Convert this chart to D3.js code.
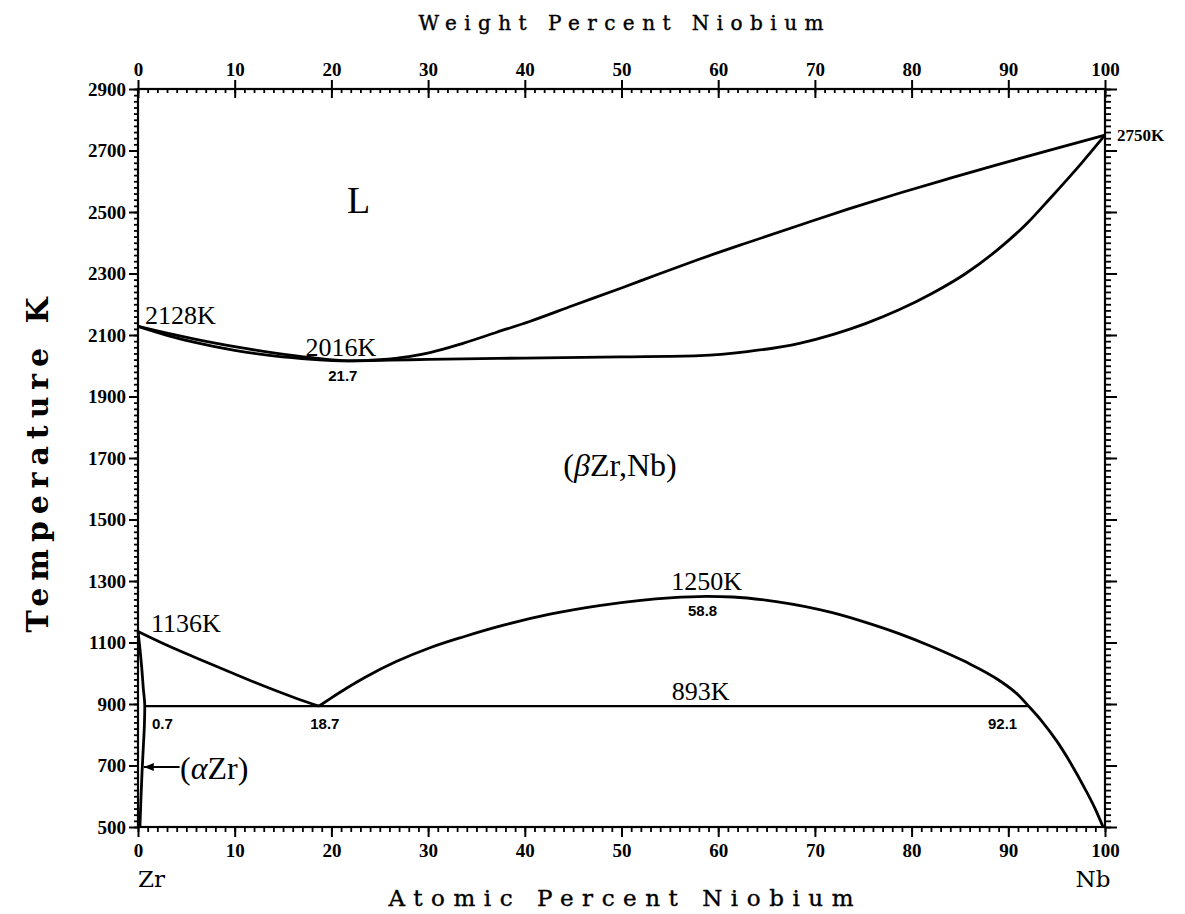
<!DOCTYPE html>
<html>
<head>
<meta charset="utf-8">
<script src="https://cdn.jsdelivr.net/npm/d3@7"></script>
<style>
  body { margin: 0; background: #fff; }
  svg { display: block; }
</style>
</head>
<body>
<svg id="chart" width="1185" height="914"></svg>
<script>
// data (atomic % Nb, temperature K)
const liquidus = [[0,2128],[3,2106],[6,2086],[10,2062],[14,2042],[18,2026],[21.7,2016],[25,2020],[28,2030],[30.2,2043],[33.6,2073],[37.1,2109],[40.5,2144],[45,2196],[50,2253],[54,2300],[58.1,2347],[63,2400],[68.4,2457],[73.5,2510],[78.7,2561],[84,2610],[89,2655],[94.5,2703],[100,2750]]
const solidus = [[0,2128],[3,2099],[6,2075],[10,2050],[14,2032],[18,2021],[21.7,2016],[26,2018],[30,2021],[40,2025],[50,2029],[58.1,2033],[63,2046],[68.4,2073],[72,2103],[75.3,2138],[78.7,2182],[82.1,2235],[85.6,2300],[89,2380],[92,2465],[94.2,2540],[97.6,2660],[100,2750]]
const betaTransus = [[0,1136],[2.6,1097],[6.1,1049],[9.5,1004],[12.9,960],[16.4,918],[18.7,893]]
const alphaSolvus = [[0,1136],[0.2,1080],[0.38,1020],[0.55,950],[0.7,893],[0.66,830],[0.55,760],[0.42,680],[0.3,590],[0.2,500]]
const miscibilityGap = [[18.7,893],[20,920],[21.6,952],[23.5,987],[26.7,1038],[30.2,1083],[33.6,1118],[38,1158],[42.6,1192],[47.7,1220],[52,1237],[55,1245],[58.8,1250],[61.5,1248],[66,1233],[71.8,1197],[75,1168],[78.7,1129],[82,1088],[85.6,1037],[89,978],[91,930],[92.1,893],[93.5,843],[95,780],[96.5,705],[98,620],[99,558],[99.8,500]]
const eutectoid = [[0.7,893],[92.1,893]]

const xTicks = d3.range(0, 101, 10)
const xMinor = d3.range(0, 101, 1)
const yTicks = d3.range(500, 2901, 200)
const yMinor = d3.range(500, 2901, 20)

const svg = d3.select("#chart")
const x = d3.scaleLinear().domain([0, 100]).range([138, 1105])
const xw = d3.scaleLinear().domain([0, 100]).range([138, 1105]) // weight %
const y = d3.scaleLinear().domain([500, 2900]).range([827, 89])

const tickFont = (g) => g.selectAll("text")
  .attr("font-family", "Liberation Serif")
  .attr("font-weight", "bold")
  .attr("font-size", 19)
  .attr("fill", "#000")

function styleAxis(g, w) {
  g.select(".domain").remove()
  g.selectAll("line").attr("stroke", "#000").attr("stroke-width", w)
}

// minor ticks
svg.append("g").attr("transform", `translate(0,${y(500)})`)
  .call(d3.axisBottom(x).tickValues(xMinor).tickSize(5).tickFormat(""))
  .call(styleAxis, 1.8)
svg.append("g").attr("transform", `translate(0,${y(2900)})`)
  .call(d3.axisBottom(xw).tickValues(xMinor).tickSize(4).tickFormat(""))
  .call(styleAxis, 1.8)
svg.append("g").attr("transform", `translate(${x(0)},0)`)
  .call(d3.axisLeft(y).tickValues(yMinor).tickSize(4).tickFormat(""))
  .call(styleAxis, 1.8)
svg.append("g").attr("transform", `translate(${x(100)},0)`)
  .call(d3.axisRight(y).tickValues(yMinor).tickSize(6).tickFormat(""))
  .call(styleAxis, 1.8)

// major ticks
svg.append("g").attr("transform", `translate(0,${y(500)})`)
  .call(d3.axisBottom(x).tickValues(xTicks).tickSize(10).tickPadding(7).tickFormat(d3.format("d")))
  .call(styleAxis, 2).call(tickFont)
svg.append("g").attr("transform", `translate(0,${y(2900)})`)
  .call(d3.axisTop(xw).tickValues(xTicks).tickSize(9).tickPadding(4).tickFormat(d3.format("d")))
  .call(styleAxis, 2).call(tickFont)
svg.append("g").attr("transform", `translate(0,${y(2900)})`)
  .call(d3.axisBottom(xw).tickValues(xTicks).tickSize(9).tickFormat(""))
  .call(styleAxis, 2)
svg.append("g").attr("transform", `translate(${x(0)},0)`)
  .call(d3.axisLeft(y).tickValues(yTicks).tickSize(9).tickPadding(3).tickFormat(d3.format("d")))
  .call(styleAxis, 2).call(tickFont)
svg.append("g").attr("transform", `translate(${x(100)},0)`)
  .call(d3.axisRight(y).tickValues(yTicks).tickSize(12).tickFormat(""))
  .call(styleAxis, 2)

// frame
svg.append("rect")
  .attr("x", x(0)).attr("y", y(2900))
  .attr("width", x(100) - x(0)).attr("height", y(500) - y(2900))
  .attr("fill", "none").attr("stroke", "#000").attr("stroke-width", 2.2)

// phase boundaries
const lineX = d3.line().x(d => x(d[0])).y(d => y(d[1])).curve(d3.curveMonotoneX)
const lineY = d3.line().x(d => x(d[0])).y(d => y(d[1])).curve(d3.curveMonotoneY)

const curves = svg.append("g").attr("fill", "none").attr("stroke", "#000")
  .attr("stroke-width", 2.8).attr("stroke-linejoin", "round")
curves.append("path").attr("d", lineX(liquidus))
curves.append("path").attr("d", lineX(solidus))
curves.append("path").attr("d", lineX(betaTransus))
curves.append("path").attr("d", lineY(alphaSolvus))
curves.append("path").attr("d", lineX(miscibilityGap))
curves.append("path").attr("d", lineX(eutectoid)).attr("stroke-width", 2.4)

// arrow to (aZr)
svg.append("defs").append("marker")
  .attr("id", "head").attr("viewBox", "0 0 10 10")
  .attr("refX", 10).attr("refY", 5)
  .attr("markerWidth", 5).attr("markerHeight", 5).attr("orient", "auto")
  .append("path").attr("d", "M0,1L10,5L0,9z").attr("fill", "#000")
svg.append("line")
  .attr("x1", x(4.3)).attr("x2", x(0.6))
  .attr("y1", y(695)).attr("y2", y(695))
  .attr("stroke", "#000").attr("stroke-width", 2)
  .attr("marker-end", "url(#head)")

// labels
const serif = "Liberation Serif"
function label(txt, px, py, opts = {}) {
  return svg.append("text")
    .attr("x", px).attr("y", py)
    .attr("text-anchor", opts.anchor || "start")
    .attr("font-family", opts.font || serif)
    .attr("font-size", opts.size || 26)
    .attr("font-weight", opts.weight || "normal")
    .attr("fill", "#000")
    .text(txt)
}

label("L", 347, 213, { size: 38 })
label("2128K", x(0) + 7, y(2128) - 2, { size: 26 })
label("2016K", x(21.7) - 7, y(2016) - 5, { size: 26, anchor: "middle" })
label("21.7", x(21.7) - 5, y(2016) + 20, { size: 15, weight: "bold", font: "Liberation Sans", anchor: "middle" })
label("1136K", x(0) + 13, y(1136) + 1, { size: 26 })
label("0.7", x(0) + 14, y(893) + 23, { size: 15, weight: "bold", font: "Liberation Sans" })
label("18.7", x(18.7) + 6, y(893) + 23, { size: 15, weight: "bold", font: "Liberation Sans", anchor: "middle" })
label("1250K", x(58.8), y(1250) - 6, { size: 26, anchor: "middle" })
label("58.8", x(58.8) - 4, y(1250) + 20, { size: 15, weight: "bold", font: "Liberation Sans", anchor: "middle" })
label("893K", x(58.8) - 6, y(893) - 6, { size: 26, anchor: "middle" })
label("92.1", x(92.1) - 26, y(893) + 23, { size: 15, weight: "bold", font: "Liberation Sans", anchor: "middle" })
label("2750K", x(100) + 12, y(2750) + 6, { size: 17, weight: "bold" })

const beta = label("(", 620, 476, { size: 32, anchor: "middle" })
beta.append("tspan").attr("font-style", "italic").text("β")
beta.append("tspan").text("Zr,Nb)")

const alpha = label("(", 180, 779, { size: 32 })
alpha.append("tspan").attr("font-style", "italic").text("α")
alpha.append("tspan").text("Zr)")

label("Zr", x(0), 887, { size: 23, font: "DejaVu Serif" })
label("Nb", x(100) - 12, 887, { size: 23, font: "DejaVu Serif", anchor: "middle" })

// axis titles
label("Weight Percent Niobium", 621, 30, { size: 20, font: "DejaVu Serif", anchor: "middle" })
  .attr("stroke", "#000").attr("stroke-width", 0.4)
  .attr("textLength", 405).attr("lengthAdjust", "spacing")
label("Atomic Percent Niobium", 621, 906, { size: 23, font: "DejaVu Serif", anchor: "middle" })
  .attr("stroke", "#000").attr("stroke-width", 0.4)
  .attr("textLength", 465).attr("lengthAdjust", "spacing")
label("Temperature K", 0, 0, { size: 30, font: "DejaVu Serif", weight: "bold", anchor: "middle" })
  .attr("transform", "translate(48,465) rotate(-90)")
  .attr("textLength", 335).attr("lengthAdjust", "spacing")
</script>
</body>
</html>
